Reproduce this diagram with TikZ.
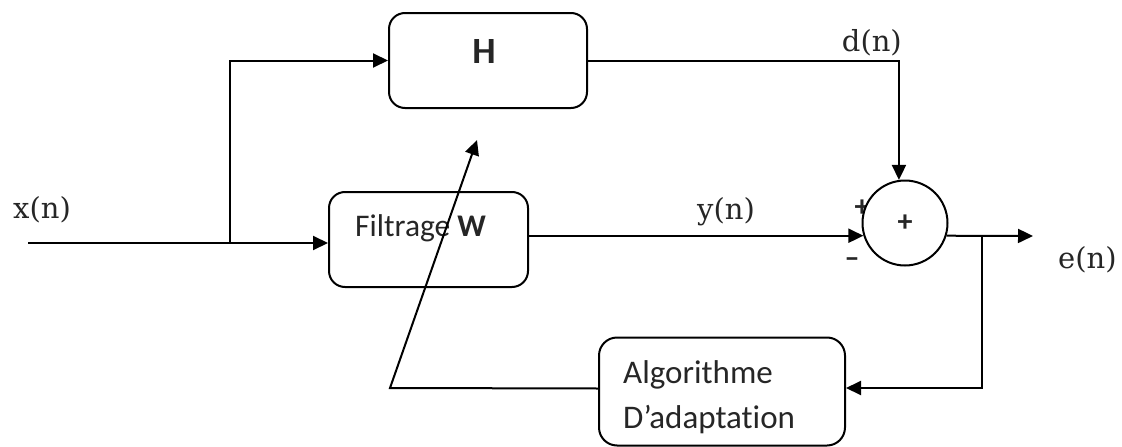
\documentclass[tikz,border=0pt]{standalone}
\usepackage{fontspec}
\setsansfont{Carlito}[Ligatures=NoCommon]
\newfontfamily\sigfont{DejaVu Serif}
\usetikzlibrary{arrows.meta}
\definecolor{ink}{HTML}{262626}
\tikzset{
  wire/.style={line width=2pt, black},
  arr/.style={wire, -{Triangle[length=15pt,width=14pt]}},
  blk/.style={draw, line width=2pt, rounded corners=16pt, inner sep=0pt},
  boxtxt/.style={inner sep=0pt, text=ink, font=\sffamily\fontsize{31.5}{40}\selectfont},
  sig/.style={inner sep=0pt, text=ink, font=\sigfont\fontsize{29}{34}\selectfont},
  sgn/.style={inner sep=0pt, text=ink, font=\sffamily\bfseries\fontsize{30}{36}\selectfont}
}
\begin{document}
\begin{tikzpicture}[x=1pt, y=-1pt]
\useasboundingbox (0,0) rectangle (1122,447);

% blocks
\node[blk, minimum width=198pt, minimum height=95pt] (H) at (488,60.5) {};
\node[blk, minimum width=199pt, minimum height=95pt] (F) at (428.5,239.5) {};
\node[blk, minimum width=246pt, minimum height=108pt, rounded corners=18pt] (A) at (722,391.5) {};

% block texts
\node[boxtxt, font=\sffamily\bfseries\fontsize{37}{42}\selectfont, anchor=base] (Ht) at (484,63) {H};
\node[boxtxt, anchor=base west] (Ft) at (355,236) {Filtrage \textbf{W}};
\node[boxtxt, font=\sffamily\fontsize{33}{40}\selectfont, anchor=base west] (At1) at (623,383) {Algorithme};
\node[boxtxt, font=\sffamily\fontsize{33}{40}\selectfont, anchor=base west] (At2) at (623,428) {D’adaptation};

% summing junction with its sign marks
\node[sgn] (pl) at (862,208) {+};
\node[circle, draw, line width=2pt, fill=white, minimum size=85pt, inner sep=0pt,
      text=ink, font=\sffamily\bfseries\fontsize{30}{36}\selectfont] (S) at (905,223) {+};
\node[sgn] (mi) at (852,263) {–};

% signal labels
\node[sig, anchor=base west] (xl) at (13,218) {x(n)};
\node[sig, anchor=base east] (dl) at (902,51) {d(n)};
\node[sig, anchor=base west] (yl) at (697,219) {y(n)};
\node[sig, anchor=base west] (el) at (1058,268) {e(n)};

% free ends and junctions
\coordinate (in) at (28,243);
\coordinate (split) at (230,243);
\coordinate (out) at (1033,236);
\coordinate (tap) at (982,236);
\coordinate (knee) at (390,388);
\coordinate (adj) at (477,140);

% connectors
\draw[arr] (in) -- (in -| F.west);
\draw[arr] (split) |- (H.west);
\draw[arr] (H.east) -| (S.98);
\draw[arr] (F.east |- S.197) -- (S.197);
\draw[arr] (S.-17) -- (out);
\draw[arr] (tap) |- ([yshift=3.5pt]A.east);
\draw[arr] ([yshift=3pt]A.west) -- (knee) -- (adj);
\end{tikzpicture}
\end{document}
